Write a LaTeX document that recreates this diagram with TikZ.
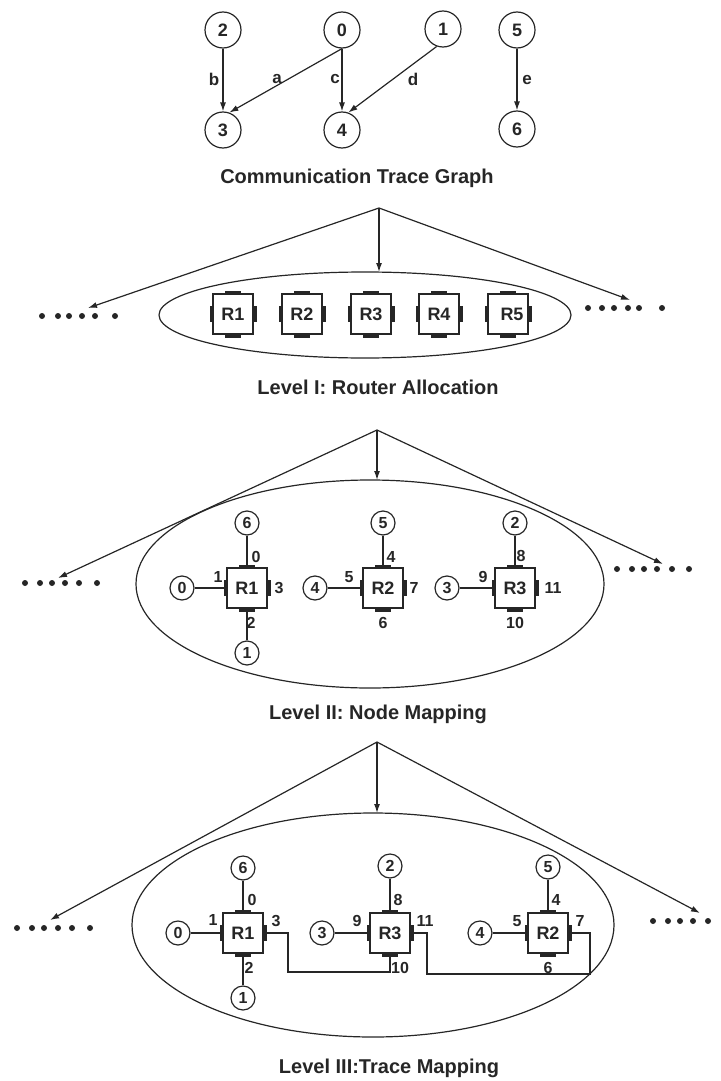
\documentclass[tikz,border=0pt]{standalone}
\usepackage{fontspec}
\setmainfont{Liberation Sans}
\usetikzlibrary{arrows.meta,shapes.geometric,calc}
\newcommand{\rports}[1]{%
 \fill ([shift={(-8pt,-1pt)}]#1.north) rectangle ([shift={(8pt,3.5pt)}]#1.north);
 \fill ([shift={(-8pt,1pt)}]#1.south) rectangle ([shift={(8pt,-3.5pt)}]#1.south);
 \fill ([shift={(1pt,-8pt)}]#1.west) rectangle ([shift={(-3.5pt,8pt)}]#1.west);
 \fill ([shift={(-1pt,-8pt)}]#1.east) rectangle ([shift={(3.5pt,8pt)}]#1.east);}
\newcommand{\dotrow}[2]{\foreach \dx in {#2} {\fill (\dx,#1) circle[radius=3pt];}}
\begin{document}
\begin{tikzpicture}[x=1pt,y=-1pt,line width=1.2pt,color=black!85,
  bignode/.style={circle,draw,minimum size=36pt,inner sep=0pt,font=\bfseries\fontsize{18}{18}\selectfont},
  smallnode/.style={circle,draw,minimum size=24pt,inner sep=0pt,font=\bfseries\fontsize{16}{16}\selectfont},
  router/.style={draw,minimum size=40pt,inner sep=0pt,outer sep=0pt,font=\bfseries\fontsize{18}{18}\selectfont},
  lab/.style={inner sep=0pt,font=\bfseries\fontsize{16}{16}\selectfont},
  elab/.style={inner sep=0pt,font=\bfseries\fontsize{17}{17}\selectfont},
  ttl/.style={inner sep=0pt,font=\bfseries\fontsize{20}{20}\selectfont},
  arr/.style={-{Latex[length=9pt,width=6pt]}},
  lvl/.style={draw,ellipse,inner sep=0pt,outer sep=0pt}]
\useasboundingbox (0,0) rectangle (720,1081);
% ---------- communication trace graph
\node[bignode] (g2) at (223,30) {2};
\node[bignode] (g0) at (342,30) {0};
\node[bignode] (g1) at (443,29) {1};
\node[bignode] (g5) at (517,30) {5};
\node[bignode] (g3) at (223,130) {3};
\node[bignode] (g4) at (342,130) {4};
\node[bignode] (g6) at (517,129) {6};
\draw[arr] (g2) -- (g3);
\draw[arr] (g0.south) -- (g3.70);
\draw[arr] (g0) -- (g4);
\draw[arr] (g1.250) -- (g4.70);
\draw[arr] (g5) -- (g6);
\node[elab] (lb) at (214,79) {b};
\node[elab] (la) at (277,79) {a};
\node[elab] (lc) at (335,79) {c};
\node[elab] (ld) at (413,79) {d};
\node[elab] (le) at (527,80) {e};
\node[ttl] (t0) at (357,178) {Communication Trace Graph};
% ---------- Level I
\coordinate (a1) at (379,208);
\node[lvl,minimum width=412pt,minimum height=86pt] (e1) at (365,315) {};
\coordinate (l1) at (88,308);
\coordinate (r1) at (630,300);
\draw[arr] (a1) -- (a1 |- e1.north);
\draw[arr] (a1) -- (l1);
\draw[arr] (a1) -- (r1);
\dotrow{316}{42,58,69,82,95,115}
\dotrow{308}{588,602,614,628,639,662}
\foreach \i/\x in {1/233,2/302,3/371,4/439,5/508} {
  \node[router] (ra\i) at (\x,314) {};
  \rports{ra\i}
}
\foreach \i/\x in {1/233,2/302,3/371,4/439} {\node[lab,font=\bfseries\fontsize{18}{18}\selectfont] (ta\i) at (\x,314) {R\i};}
\node[lab,font=\bfseries\fontsize{18}{18}\selectfont] (ta5) at (512,314) {R5};
\node[ttl] (t1) at (378,387) {Level I: Router Allocation};
% ---------- Level II
\coordinate (a2) at (377,430);
\node[lvl,minimum width=468pt,minimum height=208pt] (e2) at (370,584) {};
\coordinate (l2) at (58,578);
\coordinate (r2) at (663,564);
\draw[arr] (a2) -- (a2 |- e2.north);
\draw[arr] (a2) -- (l2);
\draw[arr] (a2) -- (r2);
\dotrow{583}{25,40,52,65,79,97}
\dotrow{569}{617,632,644,657,672,689}
\node[router] (rb1) at (247,588) {R1};
\node[router] (rb2) at (383,588) {R2};
\node[router] (rb3) at (515,588) {R3};
\node[smallnode] (b6) at (247,523) {6};
\node[smallnode] (b0) at (182,588) {0};
\node[smallnode] (b1) at (247,653) {1};
\node[smallnode] (b5) at (383,523) {5};
\node[smallnode] (b4) at (315,588) {4};
\node[smallnode] (b2) at (515,523) {2};
\node[smallnode] (b3) at (447,588) {3};
\draw (b6) -- (rb1.north);
\draw (b0) -- (rb1.west);
\draw (b1) -- (rb1.south);
\draw (b5) -- (rb2.north);
\draw (b4) -- (rb2.west);
\draw (b2) -- (rb3.north);
\draw (b3) -- (rb3.west);
\rports{rb1}\rports{rb2}\rports{rb3}
\node[lab] (pb0) at (256,557) {0};
\node[lab] (pb1) at (218,577) {1};
\node[lab] (pb3) at (279,588) {3};
\node[lab] (pb2) at (251,623) {2};
\node[lab] (pb4) at (391,557) {4};
\node[lab] (pb5) at (349,577) {5};
\node[lab] (pb7) at (414,588) {7};
\node[lab] (pb6) at (383,623) {6};
\node[lab] (pb8) at (521,556) {8};
\node[lab] (pb9) at (483,577) {9};
\node[lab] (pb11) at (553,588) {11};
\node[lab] (pb10) at (515,623) {10};
\node[ttl] (t2) at (378,714) {Level II: Node Mapping};
% ---------- Level III
\coordinate (a3) at (377,742);
\node[lvl,minimum width=482pt,minimum height=224pt] (e3) at (373,925) {};
\coordinate (l3) at (50,920);
\coordinate (r3) at (700,913);
\draw[arr] (a3) -- (a3 |- e3.north);
\draw[arr] (a3) -- (l3);
\draw[arr] (a3) -- (r3);
\dotrow{928}{17,32,44,58,72,90}
\dotrow{921}{653,668,680,693,708}
\node[router] (rc1) at (243,933) {R1};
\node[router] (rc3) at (390,933) {R3};
\node[router] (rc2) at (548,933) {R2};
\node[smallnode] (c6) at (243,868) {6};
\node[smallnode] (c0) at (178,933) {0};
\node[smallnode] (c1) at (243,998) {1};
\node[smallnode] (c2) at (390,866) {2};
\node[smallnode] (c3) at (322,933) {3};
\node[smallnode] (c5) at (548,867) {5};
\node[smallnode] (c4) at (480,933) {4};
\draw (c6) -- (rc1.north);
\draw (c0) -- (rc1.west);
\draw (c1) -- (rc1.south);
\draw (c2) -- (rc3.north);
\draw (c3) -- (rc3.west);
\draw (c5) -- (rc2.north);
\draw (c4) -- (rc2.west);
\coordinate (k1) at (288,972);
\draw (rc1.east) -| (k1) -| (rc3.south);
\coordinate (k2) at (427,974);
\coordinate (k3) at (590,974);
\draw (rc3.east) -| (k2) -- (k3) |- (rc2.east);
\rports{rc1}\rports{rc2}\rports{rc3}
\node[lab] (pc0) at (252,900) {0};
\node[lab] (pc1) at (213,920) {1};
\node[lab] (pc3) at (276,921) {3};
\node[lab] (pc2) at (249,968) {2};
\node[lab] (pc8) at (398,900) {8};
\node[lab] (pc9) at (357,921) {9};
\node[lab] (pc11) at (425,921) {11};
\node[lab] (pc10) at (400,968) {10};
\node[lab] (pc4) at (556,900) {4};
\node[lab] (pc5) at (517,921) {5};
\node[lab] (pc7) at (580,921) {7};
\node[lab] (pc6) at (548,968) {6};
\node[ttl] (t3) at (389,1068) {Level III:Trace Mapping};
\end{tikzpicture}
\end{document}
